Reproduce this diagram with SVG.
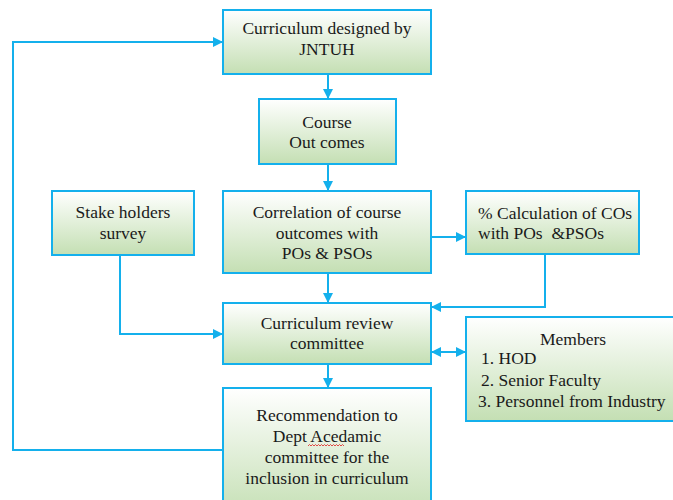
<svg xmlns="http://www.w3.org/2000/svg" width="673" height="500" viewBox="0 0 673 500">
  <defs>
    <linearGradient id="boxFill" x1="0" y1="0" x2="0" y2="1">
      <stop offset="0" stop-color="#ffffff"/>
      <stop offset="1" stop-color="#c4dfb3"/>
    </linearGradient>
    <marker id="arrowEnd" viewBox="0 0 10 10" refX="10" refY="5" markerWidth="10" markerHeight="10" markerUnits="userSpaceOnUse" orient="auto">
      <path d="M0,0 L10,5 L0,10 z" fill="#14b0ec"/>
    </marker>
    <marker id="arrowStart" viewBox="0 0 10 10" refX="0" refY="5" markerWidth="10" markerHeight="10" markerUnits="userSpaceOnUse" orient="auto">
      <path d="M10,0 L0,5 L10,10 z" fill="#14b0ec"/>
    </marker>
  </defs>
  <style>
    .box { fill: url(#boxFill); stroke: #14b0ec; stroke-width: 2; }
    .wire { fill: none; stroke: #14b0ec; stroke-width: 2; }
  </style>
  <rect width="673" height="500" fill="#ffffff"/>

  <g id="connectors">
    <path class="wire" d="M328,74 V99" marker-end="url(#arrowEnd)"/>
    <path class="wire" d="M328,164 V191" marker-end="url(#arrowEnd)"/>
    <path class="wire" d="M328,273 V303" marker-end="url(#arrowEnd)"/>
    <path class="wire" d="M431,237 H466" marker-end="url(#arrowEnd)"/>
    <path class="wire" d="M545,254 V307 H431" marker-end="url(#arrowEnd)"/>
    <path class="wire" d="M120,255 V334 H223" marker-end="url(#arrowEnd)"/>
    <path class="wire" d="M431,352 H466" marker-start="url(#arrowStart)" marker-end="url(#arrowEnd)"/>
    <path class="wire" d="M328,364 V388" marker-end="url(#arrowEnd)"/>
    <path class="wire" d="M223,450 H13 V42 H223" marker-end="url(#arrowEnd)"/>
  </g>

  <g id="jntuh">
    <rect class="box" x="223" y="10" width="208" height="64"/>
    <text font-family="Liberation Serif" font-size="17.5" fill="#1a1a1a" text-anchor="middle" x="327" y="34">Curriculum designed by</text>
    <text font-family="Liberation Serif" font-size="17.5" fill="#1a1a1a" text-anchor="middle" x="327" y="55">JNTUH</text>
  </g>

  <g id="course-outcomes">
    <rect class="box" x="259" y="99" width="137" height="65"/>
    <text font-family="Liberation Serif" font-size="17.5" fill="#1a1a1a" text-anchor="middle" x="327" y="128">Course</text>
    <text font-family="Liberation Serif" font-size="17.5" fill="#1a1a1a" text-anchor="middle" x="327" y="148">Out comes</text>
  </g>

  <g id="stakeholders">
    <rect class="box" x="52" y="191" width="142" height="64"/>
    <text font-family="Liberation Serif" font-size="17.5" fill="#1a1a1a" text-anchor="middle" x="123" y="218">Stake holders</text>
    <text font-family="Liberation Serif" font-size="17.5" fill="#1a1a1a" text-anchor="middle" x="123" y="239">survey</text>
  </g>

  <g id="correlation">
    <rect class="box" x="223" y="191" width="208" height="82"/>
    <text font-family="Liberation Serif" font-size="17.5" fill="#1a1a1a" text-anchor="middle" x="327" y="218">Correlation of course</text>
    <text font-family="Liberation Serif" font-size="17.5" fill="#1a1a1a" text-anchor="middle" x="327" y="239">outcomes with</text>
    <text font-family="Liberation Serif" font-size="17.5" fill="#1a1a1a" text-anchor="middle" x="327" y="259">POs &amp; PSOs</text>
  </g>

  <g id="percentage">
    <rect class="box" x="466" y="191" width="173" height="63"/>
    <text font-family="Liberation Serif" font-size="17.5" fill="#1a1a1a" x="478" y="219">% Calculation of COs</text>
    <text font-family="Liberation Serif" font-size="17.5" fill="#1a1a1a" x="478" y="239" xml:space="preserve">with POs  &amp;PSOs</text>
  </g>

  <g id="review">
    <rect class="box" x="223" y="303" width="208" height="61"/>
    <text font-family="Liberation Serif" font-size="17.5" fill="#1a1a1a" text-anchor="middle" x="327" y="329">Curriculum review</text>
    <text font-family="Liberation Serif" font-size="17.5" fill="#1a1a1a" text-anchor="middle" x="327" y="349">committee</text>
  </g>

  <g id="members">
    <rect class="box" x="466" y="317" width="220" height="104"/>
    <text font-family="Liberation Serif" font-size="17.5" fill="#1a1a1a" text-anchor="middle" x="573" y="345">Members</text>
    <text font-family="Liberation Serif" font-size="17.5" fill="#1a1a1a" x="481" y="364">1. HOD</text>
    <text font-family="Liberation Serif" font-size="17.5" fill="#1a1a1a" x="481" y="386">2. Senior Faculty</text>
    <text font-family="Liberation Serif" font-size="17.5" fill="#1a1a1a" x="478" y="407">3. Personnel from Industry</text>
  </g>

  <g id="recommendation">
    <rect class="box" x="223" y="388" width="208" height="130"/>
    <text font-family="Liberation Serif" font-size="17.5" fill="#1a1a1a" text-anchor="middle" x="327" y="421">Recommendation to</text>
    <text font-family="Liberation Serif" font-size="17.5" fill="#1a1a1a" text-anchor="middle" x="327" y="442">Dept Acedamic</text>
    <text font-family="Liberation Serif" font-size="17.5" fill="#1a1a1a" text-anchor="middle" x="327" y="463">committee for the</text>
    <text font-family="Liberation Serif" font-size="17.5" fill="#1a1a1a" text-anchor="middle" x="327" y="484">inclusion in curriculum</text>
    <!-- spell-check squiggle under the misspelt word -->
    <path d="M308,446 l1.5,-1.5 l1.5,1.5 l1.5,-1.5 l1.5,1.5 l1.5,-1.5 l1.5,1.5 l1.5,-1.5 l1.5,1.5 l1.5,-1.5 l1.5,1.5 l1.5,-1.5 l1.5,1.5 l1.5,-1.5 l1.5,1.5 l1.5,-1.5 l1.5,1.5 l1.5,-1.5 l1.5,1.5 l1.5,-1.5 l1.5,1.5 l1.5,-1.5 l1.5,1.5 l1.5,-1.5 l1.5,1.5" fill="none" stroke="#e02020" stroke-width="0.8"/>
  </g>
</svg>
